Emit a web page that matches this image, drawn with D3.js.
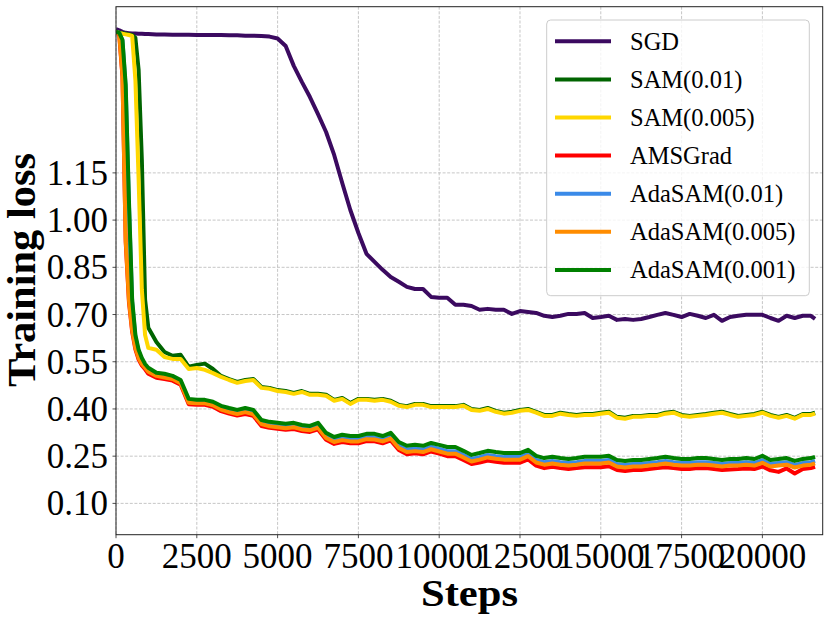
<!DOCTYPE html>
<html><head><meta charset="utf-8">
<script src="https://cdn.jsdelivr.net/npm/d3@7/dist/d3.min.js"></script>
<style>body{margin:0;background:#fff}</style>
</head><body><svg id="c" width="830" height="621"></svg>
<script>
const steps = [0,100,200,300,400,500,600,700,800,900,1000,
1250,1500,1750,2000,2250,2500,2750,3000,3250,3500,
3750,4000,4250,4500,4750,5000,5250,5500,5750,6000,
6250,6500,6750,7000,7250,7500,7750,8000,8250,8500,
8750,9000,9250,9500,9750,10000,10250,10500,10750,11000,
11250,11500,11750,12000,12250,12500,12750,13000,13250,13500,
13750,14000,14250,14500,14750,15000,15250,15500,15750,16000,
16250,16500,16750,17000,17250,17500,17750,18000,18250,18500,
18750,19000,19250,19500,19750,20000,20250,20500,20750,21000,
21250,21500,21630];

const sgd = [1.607,1.603,1.598,1.595,1.594,1.593,1.593,1.592,1.592,1.591,1.591,
1.590,1.590,1.589,1.589,1.589,1.588,1.588,1.588,1.588,1.587,
1.587,1.586,1.586,1.585,1.583,1.577,1.553,1.490,1.439,1.391,
1.337,1.280,1.207,1.118,1.032,0.959,0.893,0.867,0.842,0.819,
0.804,0.788,0.781,0.781,0.756,0.753,0.753,0.731,0.731,0.727,
0.715,0.718,0.715,0.715,0.702,0.711,0.708,0.705,0.696,0.692,
0.696,0.702,0.702,0.705,0.689,0.692,0.696,0.683,0.686,0.683,
0.686,0.692,0.699,0.705,0.699,0.692,0.702,0.696,0.689,0.699,
0.680,0.692,0.696,0.699,0.699,0.699,0.689,0.680,0.696,0.689,
0.696,0.696,0.686];

const sam001 = [1.599,1.596,1.594,1.592,1.590,1.588,1.579,1.477,1.191,0.747,0.658,
0.613,0.581,0.569,0.572,0.534,0.540,0.544,0.527,0.505,0.495,
0.486,0.492,0.495,0.470,0.467,0.460,0.457,0.451,0.457,0.448,
0.448,0.445,0.429,0.435,0.419,0.432,0.432,0.429,0.432,0.426,
0.413,0.409,0.416,0.416,0.409,0.409,0.409,0.409,0.413,0.400,
0.397,0.403,0.394,0.388,0.391,0.397,0.400,0.391,0.381,0.381,
0.388,0.384,0.381,0.384,0.384,0.388,0.391,0.375,0.372,0.378,
0.378,0.381,0.381,0.388,0.391,0.381,0.378,0.381,0.384,0.388,
0.391,0.384,0.378,0.381,0.384,0.391,0.381,0.375,0.381,0.372,
0.384,0.384,0.388];

const sam0005 = [1.599,1.595,1.592,1.590,1.588,1.585,1.445,1.128,0.778,0.635,0.594,
0.588,0.565,0.559,0.559,0.527,0.530,0.524,0.514,0.502,0.492,
0.483,0.489,0.492,0.467,0.464,0.457,0.454,0.448,0.454,0.445,
0.445,0.442,0.426,0.432,0.416,0.429,0.429,0.426,0.429,0.423,
0.410,0.406,0.413,0.413,0.406,0.406,0.406,0.406,0.410,0.397,
0.394,0.400,0.391,0.385,0.388,0.394,0.397,0.388,0.378,0.378,
0.385,0.381,0.378,0.381,0.381,0.385,0.388,0.372,0.369,0.375,
0.375,0.378,0.378,0.385,0.388,0.378,0.375,0.378,0.381,0.385,
0.388,0.381,0.375,0.378,0.381,0.388,0.378,0.372,0.378,0.369,
0.381,0.381,0.385];

const amsgrad = [1.599,1.588,1.455,0.930,0.740,0.645,0.589,0.557,0.538,0.526,0.512,
0.499,0.495,0.490,0.477,0.415,0.413,0.413,0.407,0.393,0.385,
0.379,0.384,0.378,0.346,0.340,0.337,0.334,0.336,0.330,0.327,
0.335,0.302,0.289,0.295,0.291,0.291,0.298,0.297,0.291,0.300,
0.270,0.256,0.259,0.256,0.265,0.258,0.250,0.250,0.238,0.225,
0.230,0.236,0.232,0.229,0.229,0.229,0.240,0.220,0.212,0.216,
0.212,0.209,0.212,0.215,0.215,0.215,0.218,0.206,0.203,0.206,
0.206,0.209,0.212,0.215,0.212,0.209,0.209,0.212,0.212,0.209,
0.206,0.208,0.209,0.211,0.209,0.217,0.205,0.200,0.211,0.195,
0.209,0.212,0.216];

const adasam001 = [1.599,1.594,1.570,1.420,1.050,0.740,0.628,0.582,0.556,0.537,0.525,
0.509,0.506,0.499,0.486,0.426,0.422,0.423,0.416,0.403,0.396,
0.390,0.396,0.390,0.357,0.351,0.348,0.345,0.348,0.341,0.338,
0.347,0.314,0.301,0.308,0.304,0.304,0.311,0.310,0.303,0.313,
0.283,0.271,0.274,0.271,0.280,0.273,0.266,0.266,0.254,0.241,
0.247,0.254,0.250,0.247,0.247,0.247,0.258,0.238,0.231,0.235,
0.231,0.228,0.231,0.235,0.235,0.235,0.238,0.225,0.222,0.225,
0.225,0.228,0.231,0.235,0.231,0.228,0.228,0.231,0.231,0.228,
0.225,0.228,0.228,0.231,0.228,0.237,0.225,0.228,0.231,0.222,
0.228,0.231,0.235];

const adasam0005 = [1.599,1.590,1.461,0.937,0.747,0.651,0.594,0.562,0.543,0.531,0.518,
0.505,0.500,0.495,0.482,0.420,0.418,0.418,0.412,0.398,0.390,
0.384,0.390,0.383,0.352,0.345,0.342,0.339,0.342,0.335,0.332,
0.341,0.308,0.295,0.301,0.297,0.297,0.304,0.303,0.297,0.306,
0.276,0.263,0.266,0.263,0.272,0.265,0.258,0.258,0.246,0.233,
0.239,0.246,0.242,0.239,0.239,0.239,0.250,0.230,0.223,0.227,
0.223,0.220,0.223,0.227,0.227,0.227,0.230,0.217,0.214,0.217,
0.217,0.220,0.223,0.227,0.223,0.220,0.220,0.223,0.223,0.220,
0.217,0.220,0.220,0.223,0.220,0.229,0.217,0.220,0.223,0.214,
0.220,0.223,0.227];

const adasam0001 = [1.599,1.595,1.573,1.430,1.064,0.747,0.635,0.588,0.562,0.543,0.531,
0.515,0.512,0.505,0.492,0.432,0.429,0.429,0.423,0.410,0.403,
0.397,0.403,0.397,0.365,0.359,0.356,0.353,0.356,0.349,0.346,
0.356,0.324,0.311,0.318,0.314,0.314,0.321,0.321,0.314,0.324,
0.295,0.283,0.286,0.283,0.292,0.286,0.279,0.279,0.267,0.254,
0.260,0.267,0.263,0.260,0.260,0.260,0.270,0.251,0.244,0.248,
0.244,0.241,0.244,0.248,0.248,0.248,0.251,0.238,0.235,0.238,
0.238,0.241,0.244,0.248,0.244,0.241,0.241,0.244,0.244,0.241,
0.238,0.241,0.241,0.244,0.241,0.251,0.238,0.241,0.244,0.235,
0.241,0.244,0.248];

const seriesNames = ["SGD","SAM(0.01)","SAM(0.005)","AMSGrad","AdaSAM(0.01)","AdaSAM(0.005)","AdaSAM(0.001)"];
const seriesValues = [sgd, sam001, sam0005, amsgrad, adasam001, adasam0005, adasam0001];
const seriesColors = ["#3b0a60","#006400","#ffd700","#ff0000","#3a8ae8","#ff8c00","#008000"];

const xTicks = [0,2500,5000,7500,10000,12500,15000,17500,20000];
const yTicks = [0.10,0.25,0.40,0.55,0.70,0.85,1.00,1.15];

const svg = d3.select("#c");
const L = 116, R = 822.7, T = 6.7, B = 534.7;
const x = d3.scaleLinear().domain([0, 21866]).range([L, R]);
const y = d3.scaleLinear().domain([0.0005, 1.678]).range([B, T]);
const font = "'Liberation Serif', 'DejaVu Serif', serif";

// grid
const g = svg.append("g");
g.selectAll(".gx").data(xTicks).enter().append("line")
  .attr("x1", d => x(d)).attr("x2", d => x(d)).attr("y1", T).attr("y2", B)
  .attr("stroke", "#b8b8b8").attr("stroke-width", 0.8).attr("stroke-dasharray", "3,1.6");
g.selectAll(".gy").data(yTicks).enter().append("line")
  .attr("x1", L).attr("x2", R).attr("y1", d => y(d)).attr("y2", d => y(d))
  .attr("stroke", "#b8b8b8").attr("stroke-width", 0.8).attr("stroke-dasharray", "3,1.6");

// clip
svg.append("defs").append("clipPath").attr("id", "clip")
  .append("rect").attr("x", L).attr("y", T).attr("width", R - L).attr("height", B - T);

const line = d3.line().x(d => x(d[0])).y(d => y(d[1]));
const lines = svg.append("g").attr("clip-path", "url(#clip)");
seriesValues.forEach((vals, i) => {
  const pts = steps.map((s, j) => [s, vals[j]]);
  lines.append("path").attr("d", line(pts)).attr("fill", "none")
    .attr("stroke", seriesColors[i]).attr("stroke-width", 4)
    .attr("stroke-linejoin", "round").attr("stroke-linecap", "butt");
});

// frame
svg.append("rect").attr("x", L).attr("y", T).attr("width", R - L).attr("height", B - T)
  .attr("fill", "none").attr("stroke", "#222").attr("stroke-width", 1);

// ticks
svg.selectAll(".tx").data(xTicks).enter().append("line")
  .attr("x1", d => x(d)).attr("x2", d => x(d)).attr("y1", B).attr("y2", B + 3.5)
  .attr("stroke", "#222").attr("stroke-width", 0.8);
svg.selectAll(".ty").data(yTicks).enter().append("line")
  .attr("x1", L - 3.5).attr("x2", L).attr("y1", d => y(d)).attr("y2", d => y(d))
  .attr("stroke", "#222").attr("stroke-width", 0.8);

svg.selectAll(".lx").data(xTicks).enter().append("text")
  .attr("x", d => x(d)).attr("y", 568).attr("text-anchor", "middle")
  .attr("font-family", font).attr("font-size", 35).attr("fill", "#000")
  .text(d => String(d));
svg.selectAll(".ly").data(yTicks).enter().append("text")
  .attr("x", 108).attr("y", d => y(d) + 12).attr("text-anchor", "end")
  .attr("font-family", font).attr("font-size", 35).attr("fill", "#000")
  .text(d => d.toFixed(2));

// axis labels
svg.append("text").attr("x", 469.5).attr("y", 606).attr("text-anchor", "middle")
  .attr("font-family", font).attr("font-weight", "bold").attr("font-size", 38)
  .attr("textLength", 97).attr("lengthAdjust", "spacingAndGlyphs")
  .text("Steps");
svg.append("text").attr("transform", "translate(35,270) rotate(-90)")
  .attr("text-anchor", "middle")
  .attr("font-family", font).attr("font-weight", "bold").attr("font-size", 39)
  .attr("textLength", 234).attr("lengthAdjust", "spacingAndGlyphs")
  .text("Training loss");

// legend
const lg = svg.append("g");
lg.append("rect").attr("x", 546.7).attr("y", 20).attr("width", 262.6).attr("height", 275.7)
  .attr("rx", 4).attr("fill", "#fff").attr("fill-opacity", 0.8)
  .attr("stroke", "#cccccc").attr("stroke-width", 1);
seriesNames.forEach((name, i) => {
  const cy = 41.3 + i * 38.1;
  lg.append("line").attr("x1", 555).attr("x2", 611).attr("y1", cy).attr("y2", cy)
    .attr("stroke", seriesColors[i]).attr("stroke-width", 4);
  lg.append("text").attr("x", 630).attr("y", cy + 8.2)
    .attr("font-family", font).attr("font-size", 24.5).attr("fill", "#000")
    .text(name);
});
</script>
</body></html>
